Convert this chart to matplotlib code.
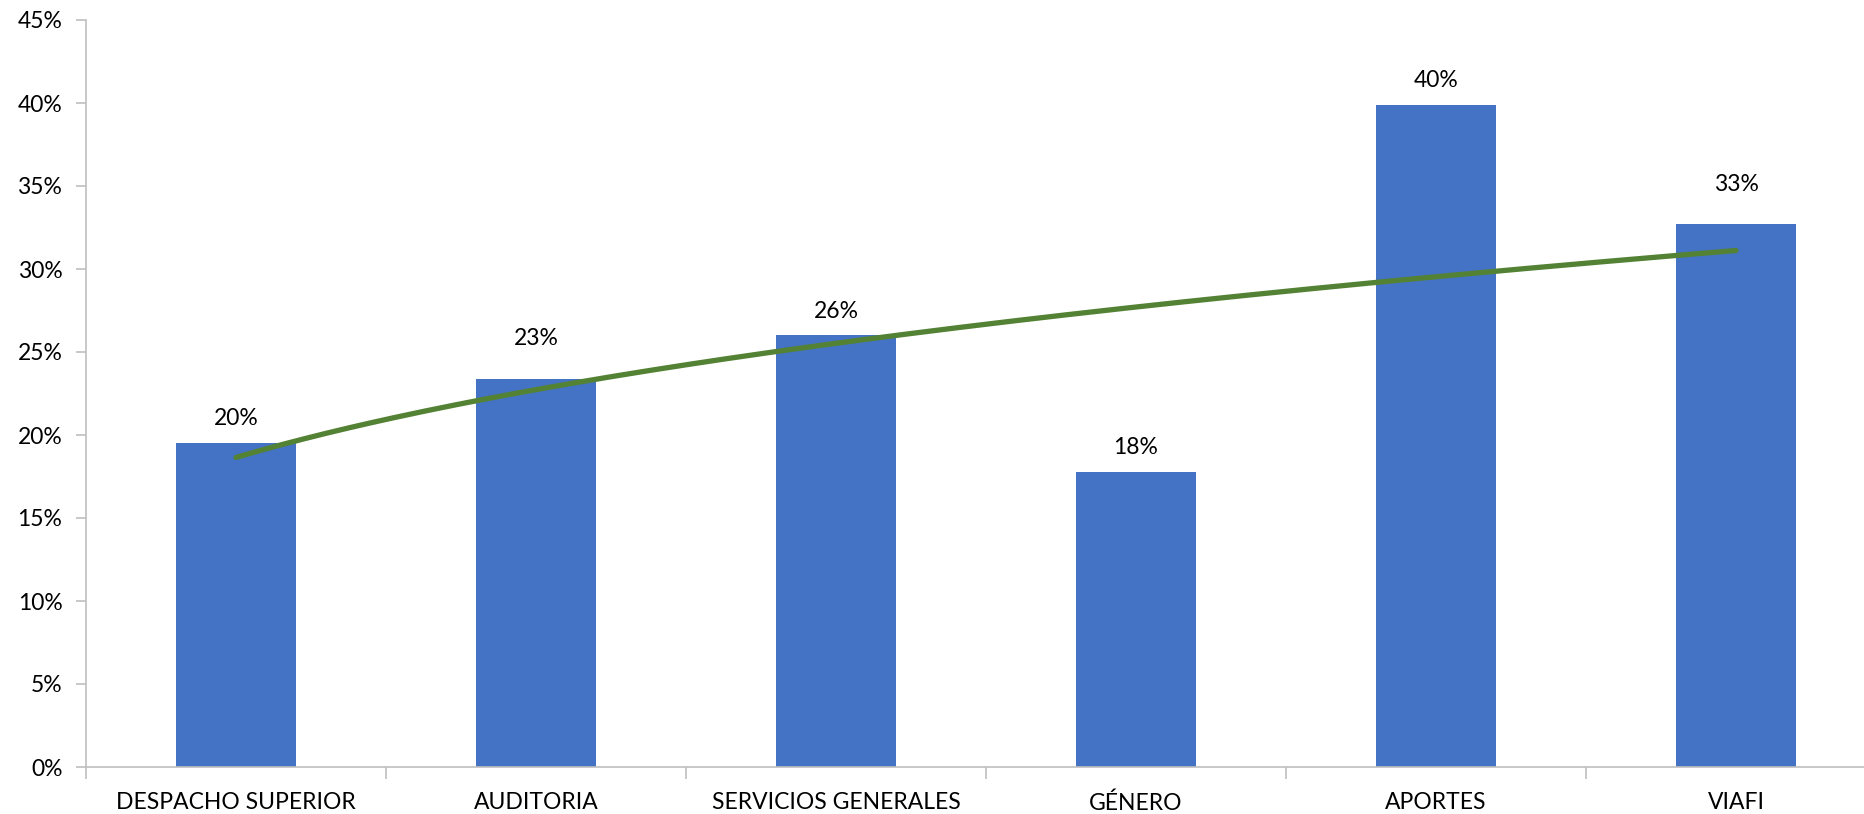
import numpy as np
import matplotlib
matplotlib.use("Agg")
import matplotlib.pyplot as plt
from matplotlib.ticker import FuncFormatter, FixedLocator

categories = ["DESPACHO SUPERIOR", "AUDITORIA", "SERVICIOS GENERALES", "GÉNERO", "APORTES", "VIAFI"]
values = [19.5, 23.4, 26.0, 17.8, 39.9, 32.7]
labels = ["20%", "23%", "26%", "18%", "40%", "33%"]
yticks = [0, 5, 10, 15, 20, 25, 30, 35, 40, 45]

plt.rcParams['font.family'] = ['Lato', 'DejaVu Sans']

fig = plt.figure(figsize=(18.65, 8.14), dpi=100)
ax = fig.add_axes([86/1865, 47/814, 1800/1865, 747/814])

x = np.arange(len(categories))
bars = ax.bar(x, values, width=0.4, color="#4472C4", zorder=2)

# label offsets in points (some labels sit higher in the original)
label_offsets = [10, 21, 10, 10, 10, 21]
for xi, v, lab, off in zip(x, values, labels, label_offsets):
    ax.annotate(lab, (xi, v), xytext=(0, off), textcoords="offset points",
                ha="center", va="bottom", fontsize=16.5, color="#000000")

# Power trendline (Excel-style) fitted to the bar values
xs = x + 1
B, A = np.polyfit(np.log(xs), np.log(values), 1)
xf = np.linspace(1, len(categories), 200)
yf = np.exp(A) * xf ** B
ax.plot(xf - 1, yf, color="#548235", linewidth=3.8, zorder=3, solid_capstyle="round")

ax.set_xlim(-0.5, len(categories) - 0.5)
ax.set_ylim(0, 45)
ax.set_yticks(yticks)
ax.yaxis.set_major_formatter(FuncFormatter(lambda v, p: f"{int(v)}%"))
ax.set_xticks(x)
ax.set_xticklabels(categories)
ax.xaxis.set_minor_locator(FixedLocator(np.arange(-0.5, len(categories), 1.0)))

for s in ["top", "right"]:
    ax.spines[s].set_visible(False)
for s in ["left", "bottom"]:
    ax.spines[s].set_color("#BFBFBF")
    ax.spines[s].set_linewidth(1.2)

ax.tick_params(axis="y", length=7, width=1.2, color="#BFBFBF", pad=10, labelsize=16.5)
ax.tick_params(axis="x", which="major", length=0, pad=18, labelsize=16.5)
ax.tick_params(axis="x", which="minor", length=8.5, width=1.2, color="#BFBFBF")

fig.savefig("out.png", dpi=100)
